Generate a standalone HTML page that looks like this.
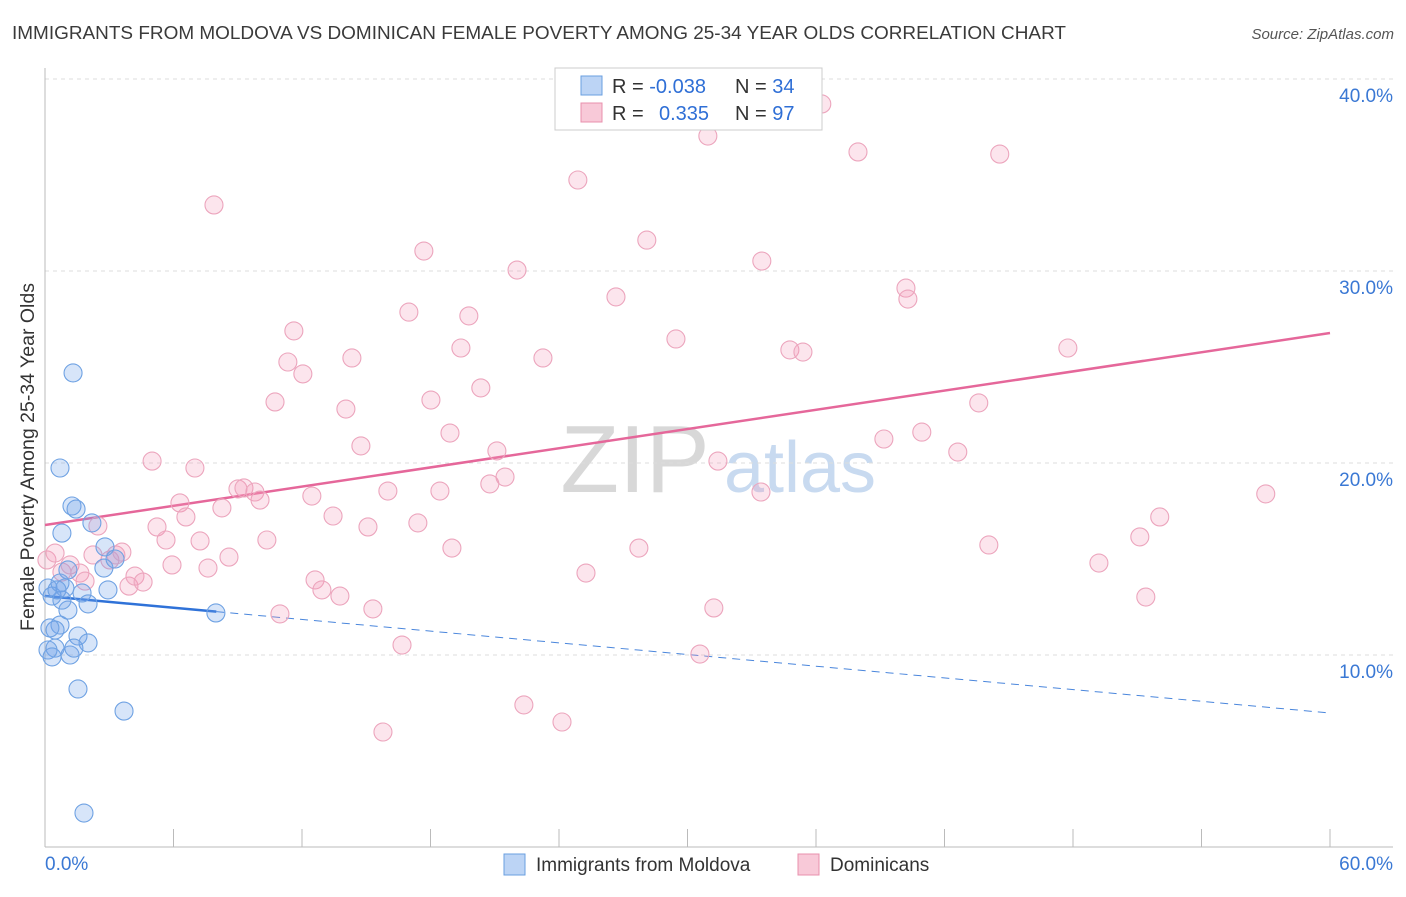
<!DOCTYPE html>
<html><head><meta charset="utf-8"><style>
body{margin:0;background:#fff;font-family:"Liberation Sans",sans-serif}
svg text{font-family:"Liberation Sans",sans-serif}
</style></head><body>
<svg id="chart" width="1406" height="892" xmlns="http://www.w3.org/2000/svg">
<text x="12" y="39" font-size="18" fill="#3a3a3a" textLength="1054" lengthAdjust="spacingAndGlyphs">IMMIGRANTS FROM MOLDOVA VS DOMINICAN FEMALE POVERTY AMONG 25-34 YEAR OLDS CORRELATION CHART</text>
<text x="1394" y="39" font-size="15" fill="#555" text-anchor="end" font-style="italic">Source: ZipAtlas.com</text>
<g>
<text x="635" y="492" font-size="96" fill="#d8d8d8" font-family="Liberation Serif" text-anchor="middle">ZIP</text>
<text x="800" y="492" font-size="72" fill="#c8daf0" text-anchor="middle">atlas</text>
</g>
<g id="grid"></g><g id="axes"></g><g id="trend"></g><g id="points"></g>
<text transform="translate(34,457) rotate(-90)" font-size="19.5" fill="#333" text-anchor="middle">Female Poverty Among 25-34 Year Olds</text>
<g>
<rect x="555" y="68" width="267" height="62" fill="#fff" stroke="#ccc"/>
<rect x="581" y="76" width="21" height="19" fill="#bcd4f5" stroke="#6a9fe0"/>
<rect x="581" y="103" width="21" height="19" fill="#f8c9d8" stroke="#e890ad"/>
<text x="612" y="93" font-size="20" fill="#333">R = <tspan fill="#2f6fd6">-0.038</tspan></text>
<text x="735" y="93" font-size="20" fill="#333">N = <tspan fill="#2f6fd6">34</tspan></text>
<text x="612" y="120" font-size="20" fill="#333">R = <tspan fill="#2f6fd6" x="659">0.335</tspan></text>
<text x="735" y="120" font-size="20" fill="#333">N = <tspan fill="#2f6fd6">97</tspan></text>
</g>
<g>
<rect x="504" y="854" width="21" height="21" fill="#bcd4f5" stroke="#6a9fe0"/>
<text x="536" y="871" font-size="19" fill="#333">Immigrants from Moldova</text>
</g>
<g>
<rect x="798" y="854" width="21" height="21" fill="#f8c9d8" stroke="#e890ad"/>
<text x="830" y="871" font-size="19" fill="#333">Dominicans</text>
</g>
</svg>
<script>
const yTicks=[10,20,30,40];
const yTickLabels=["10.0%","20.0%","30.0%","40.0%"];
const xTickVals=[0,6,12,18,24,30,36,42,48,54,60];
const xEndLabels=["0.0%","60.0%"];
const blueX=[1.31,0.70,1.26,1.45,0.79,2.19,2.80,2.75,3.27,0.14,0.33,0.70,0.93,1.73,2.01,1.07,0.70,0.47,0.23,1.54,1.17,2.01,0.47,0.14,0.33,1.35,2.94,7.98,1.54,3.69,1.82,0.79,0.56,1.07];
const blueY=[24.69,19.74,17.76,17.60,16.35,16.88,15.63,14.53,15.0,13.49,13.07,13.75,13.49,13.23,12.66,12.34,11.56,11.30,11.41,10.99,10.0,10.63,10.36,10.26,9.90,10.36,13.39,12.19,8.23,7.08,1.77,12.86,13.39,14.43];
const pinkX=[0.09,0.47,0.79,1.17,1.63,1.87,2.24,2.47,3.03,3.31,3.59,3.92,4.20,4.58,5.00,5.23,5.65,5.93,6.30,6.58,7.00,7.24,7.61,7.89,8.26,8.59,9.01,9.29,9.80,10.04,10.36,10.74,10.97,11.34,11.62,12.04,12.46,12.61,12.93,13.45,13.77,14.05,14.33,14.75,15.08,15.31,16.01,16.67,16.99,17.41,17.69,18.02,18.44,18.91,19.00,19.42,19.79,20.35,20.77,21.10,21.48,22.04,22.36,23.25,24.14,24.88,25.26,26.66,27.73,28.10,29.46,30.95,31.23,30.58,31.42,33.43,33.47,34.78,35.39,36.27,37.96,39.17,40.20,40.29,40.94,42.62,43.60,44.07,44.58,47.76,49.21,51.12,51.40,52.05,57.00,15.78];
const pinkY=[14.95,15.31,14.32,14.69,14.27,13.85,15.21,16.72,14.95,15.21,15.36,13.59,14.11,13.80,20.10,16.67,15.99,14.69,17.92,17.19,19.74,15.94,14.53,33.44,17.66,15.10,18.65,18.70,18.49,18.07,15.99,23.18,12.14,25.26,26.88,24.64,18.28,13.91,13.39,17.24,13.07,22.81,25.47,20.89,16.67,12.40,18.54,10.52,27.86,16.88,31.04,23.28,18.54,21.56,15.57,25.99,27.66,23.91,18.91,20.63,19.27,30.05,7.40,25.47,6.51,34.74,14.27,28.65,15.57,31.61,26.46,37.03,12.45,10.05,20.10,18.49,30.52,25.89,25.78,38.70,36.20,21.25,29.11,28.54,21.61,20.57,23.13,15.73,36.09,25.99,14.79,16.15,13.02,17.19,18.39,5.99];
const blueTrend=[13.07,6.98];
const pinkTrend=[16.77,26.77];
const blueSolidEnd=8;

const NS="http://www.w3.org/2000/svg";
const X0=45,X1=1330,Y0=847,PXY=19.2;
function sx(v){return X0+(X1-X0)*v/60;}
function sy(v){return Y0-v*PXY;}
function mk(tag,attrs,parent){const e=document.createElementNS(NS,tag);for(const k in attrs)e.setAttribute(k,attrs[k]);parent.appendChild(e);return e;}
const grid=document.getElementById('grid'),axes=document.getElementById('axes'),trend=document.getElementById('trend'),pts=document.getElementById('points');
const topLine=mk('line',{x1:X0,x2:1393,y1:79,y2:79,stroke:'#ddd','stroke-dasharray':'4,4'},grid);


yTicks.forEach((t,i)=>{
  const l=mk('line',{x1:X0,x2:1393,y1:sy(t),y2:sy(t),stroke:'#ddd','stroke-dasharray':'4,4'},grid);
  
  
  const tx=mk('text',{x:1393,y:sy(t)+23,'font-size':19,fill:'#3a78d4','text-anchor':'end'},axes);
  tx.textContent=yTickLabels[i];
  
  
});
const ya=mk('line',{x1:X0,x2:X0,y1:68,y2:Y0,stroke:'#bbb'},axes);


const xa=mk('line',{x1:X0,x2:1393,y1:Y0,y2:Y0,stroke:'#bbb'},axes);


xTickVals.forEach(v=>{
  const t=mk('line',{x1:sx(v),x2:sx(v),y1:829,y2:Y0,stroke:'#bbb'},axes);
  
  
});
const xl0=mk('text',{x:45,y:870,'font-size':19,fill:'#3a78d4'},axes);xl0.textContent=xEndLabels[0];


const xl1=mk('text',{x:1393,y:870,'font-size':19,fill:'#3a78d4','text-anchor':'end'},axes);xl1.textContent=xEndLabels[1];


function drawPts(xs,ys,fill,stroke,name){xs.forEach((x,i)=>{
  const c=mk('circle',{cx:sx(x),cy:sy(ys[i]),r:9,fill:fill,stroke:stroke,'stroke-width':1.1},pts);
  
  
});}
drawPts(pinkX,pinkY,'rgba(242,150,182,0.25)','#eca5bd','dominican-point');
drawPts(blueX,blueY,'rgba(110,160,232,0.28)','#6fa2e3','moldova-point');
function tv(tr,x){return tr[0]+(tr[1]-tr[0])*x/60;}
const pl=mk('line',{x1:sx(0),y1:sy(pinkTrend[0]),x2:sx(60),y2:sy(pinkTrend[1]),stroke:'#e5679a','stroke-width':2.5},trend);


const bl=mk('line',{x1:sx(0),y1:sy(blueTrend[0]),x2:sx(blueSolidEnd),y2:sy(tv(blueTrend,blueSolidEnd)),stroke:'#2f72d8','stroke-width':2.5},trend);


const bd=mk('line',{x1:sx(blueSolidEnd),y1:sy(tv(blueTrend,blueSolidEnd)),x2:sx(60),y2:sy(blueTrend[1]),stroke:'#4a86dc','stroke-width':1,'stroke-dasharray':'8,6'},trend);


</script>
</body></html>
